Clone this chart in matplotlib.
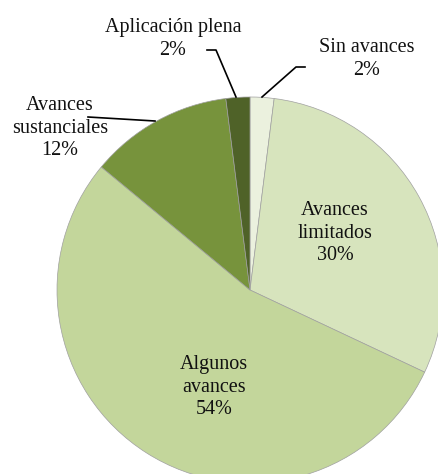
import matplotlib.pyplot as plt

categorias = ['Sin avances', 'Avances\nlimitados', 'Algunos\navances',
              'Avances\nsustanciales', 'Aplicación plena']
valores = [2, 30, 54, 12, 2]
colores = ['#ebf1de', '#d7e4bd', '#c3d69b', '#77933c', '#4f6228']

plt.rcParams['font.family'] = ['Liberation Serif', 'DejaVu Serif']

fig = plt.figure(figsize=(4.39, 4.74), dpi=100)
ax = fig.add_axes([0, 0, 1, 1])
ax.set_xlim(0, 439)
ax.set_ylim(474, 0)
ax.set_aspect('equal')
ax.axis('off')

cx, cy, r = 250, 290, 193
wedges, _ = ax.pie(valores, colors=colores, startangle=90, counterclock=False,
                   center=(cx, -cy), radius=r,
                   wedgeprops=dict(edgecolor='#a0a0a0', linewidth=0.5))
# pie is drawn in y-up space; flip it into the inverted axis
for w in wedges:
    w.set_center((cx, cy))
    t1, t2 = w.theta1, w.theta2
    w.set_theta1(-t2)
    w.set_theta2(-t1)
ax.set_xlim(0, 439)
ax.set_ylim(474, 0)

fs = 14.5
etiquetas = [f'{c}\n{v}%' for c, v in zip(categorias, valores)]
pos = [(367, 59), (335, 233), (214, 387), (60, 128), (173, 39)]
for txt, (x, y) in zip(etiquetas, pos):
    ax.text(x, y, txt, ha='center', va='center', fontsize=fs,
            linespacing=1.25, color='#111111')

# leader lines
ax.plot([207, 216, 236], [50, 50, 97], color='black', lw=1.2)
ax.plot([305, 296, 262], [67, 67, 97], color='black', lw=1.2)
ax.plot([88, 155], [117, 121], color='black', lw=1.2)

fig.savefig('out.png', dpi=100)
